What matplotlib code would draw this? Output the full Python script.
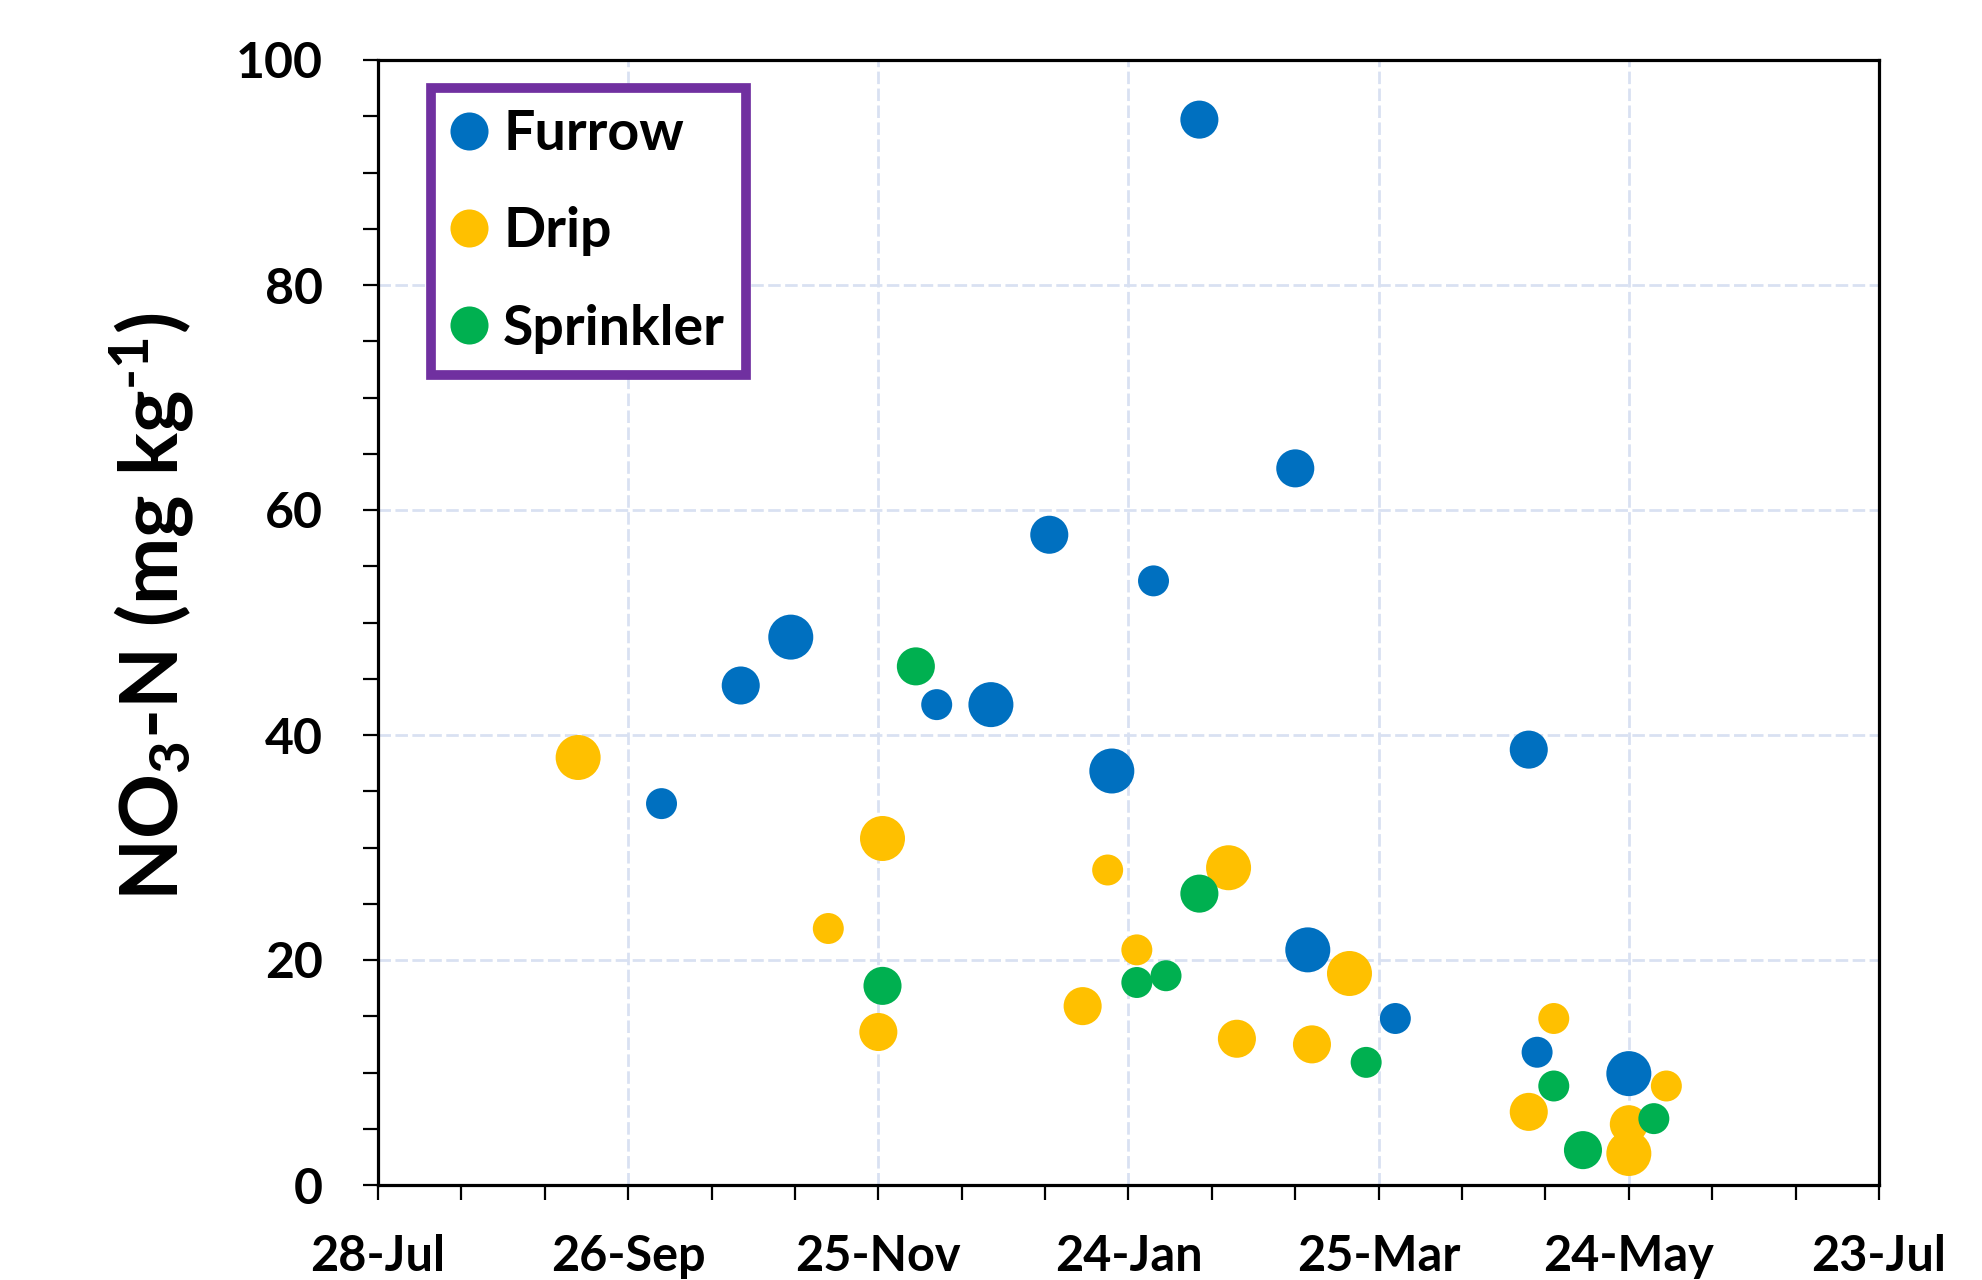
import matplotlib
matplotlib.use('Agg')
import matplotlib.pyplot as plt
import matplotlib.dates as mdates
from matplotlib.lines import Line2D
from matplotlib.ticker import FixedLocator, MultipleLocator
import numpy as np

plt.rcParams['font.family'] = ['Lato', 'DejaVu Sans']
plt.rcParams['font.weight'] = 'bold'
plt.rcParams['mathtext.fontset'] = 'custom'
plt.rcParams['mathtext.rm'] = 'Lato:bold'
plt.rcParams['mathtext.it'] = 'Lato:bold'
plt.rcParams['mathtext.bf'] = 'Lato:bold'

# ---------------- data ----------------
series_names = ['Furrow', 'Drip', 'Sprinkler']

furrow_dates = ['2019-02-10', '2019-03-05', '2019-01-05', '2019-01-30', '2018-11-04',
                '2018-10-23', '2018-12-09', '2018-12-22', '2019-01-20', '2019-04-30',
                '2018-10-04', '2019-03-08', '2019-03-29', '2019-05-02', '2019-05-24']
furrow_no3 = [94.7, 63.7, 57.8, 53.7, 48.7, 44.4, 42.7, 42.7, 36.8, 38.7,
              33.9, 20.9, 14.8, 11.8, 9.9]
furrow_size = [2, 2, 2, 1, 3, 2, 1, 3, 3, 2, 1, 3, 1, 1, 3]

drip_dates = ['2018-09-14', '2018-11-26', '2018-11-13', '2018-11-25', '2019-01-19',
              '2019-01-13', '2019-02-17', '2019-01-26', '2019-02-19', '2019-03-09',
              '2019-03-18', '2019-05-06', '2019-04-30', '2019-05-24', '2019-05-24',
              '2019-06-02']
drip_no3 = [38.0, 30.8, 22.8, 13.6, 28.0, 15.9, 28.2, 20.9, 13.0, 12.5,
            18.8, 14.8, 6.5, 5.4, 2.8, 8.8]
drip_size = [3, 3, 1, 2, 1, 2, 3, 1, 2, 2, 3, 1, 2, 2, 3, 1]

sprinkler_dates = ['2018-12-04', '2018-11-26', '2019-02-10', '2019-01-26', '2019-02-02',
                   '2019-03-22', '2019-05-06', '2019-05-13', '2019-05-30']
sprinkler_no3 = [46.1, 17.7, 25.9, 18.0, 18.6, 10.9, 8.8, 3.1, 5.9]
sprinkler_size = [2, 2, 2, 1, 1, 1, 1, 2, 1]

x_tick_dates = ['2018-07-28', '2018-09-26', '2018-11-25', '2019-01-24',
                '2019-03-25', '2019-05-24', '2019-07-23']
x_tick_labels = ['28-Jul', '26-Sep', '25-Nov', '24-Jan', '25-Mar', '24-May', '23-Jul']
y_ticks = [0, 20, 40, 60, 80, 100]

# ---------------- style ----------------
colors = ['#0070C0', '#FFC000', '#00B050']
size_area = {1: 22.3 ** 2, 2: 27.4 ** 2, 3: 32.4 ** 2}

fig = plt.figure(figsize=(19.82, 12.8), dpi=100)
W, H = 1982, 1280
L, R, T, B = 378, 1879, 60, 1185
ax = fig.add_axes([L / W, 1 - B / H, (R - L) / W, (B - T) / H])

series = [(furrow_dates, furrow_no3, furrow_size),
          (drip_dates, drip_no3, drip_size),
          (sprinkler_dates, sprinkler_no3, sprinkler_size)]

for (d, v, s), c, name in zip(series, colors, series_names):
    xd = mdates.date2num(np.array(d, dtype='datetime64[D]'))
    ax.scatter(xd, v, s=[size_area[k] for k in s], color=c, edgecolors='none',
               zorder=3, label=name)

xt = mdates.date2num(np.array(x_tick_dates, dtype='datetime64[D]'))
ax.set_xlim(xt[0], xt[-1])
ax.set_ylim(0, 100)
ax.xaxis.set_major_locator(FixedLocator(xt))
ax.set_xticklabels(x_tick_labels)
ax.xaxis.set_minor_locator(FixedLocator(np.arange(xt[0], xt[-1] + 1, 20)))
ax.set_yticks(y_ticks)
ax.yaxis.set_minor_locator(MultipleLocator(5))

ax.tick_params(axis='both', which='both', direction='out', length=10.5, width=1.6,
               color='black')
ax.tick_params(axis='x', which='major', labelsize=35, pad=25)
ax.tick_params(axis='y', which='major', labelsize=36, pad=29)
for lab in ax.get_xticklabels() + ax.get_yticklabels():
    lab.set_fontweight('bold')

for sp in ax.spines.values():
    sp.set_linewidth(2.3)
    sp.set_color('black')

ax.set_axisbelow(True)
ax.grid(True, which='major', color='#D9E1F2', linewidth=2.0, linestyle=(0, (4.5, 1.6)))

ax.set_ylabel(r'NO$_3$-N (mg kg$^{\text{-}1}$)', fontsize=58, fontweight='bold')
ax.yaxis.set_label_coords(-0.121, 0.514)

handles = [Line2D([], [], marker='o', linestyle='', markersize=27.4, color=c,
                  markeredgewidth=0, label=n) for c, n in zip(colors, series_names)]
leg = ax.legend(handles=handles, loc='upper left', bbox_to_anchor=(0.0353, 0.975),
                borderaxespad=0, frameon=True, fancybox=False,
                handlelength=0.62, handletextpad=0.30, labelspacing=0.85,
                borderpad=0.38, prop={'size': 40, 'weight': 'bold'})
fr = leg.get_frame()
fr.set_edgecolor('#7030A0')
fr.set_linewidth(7)
fr.set_facecolor('white')
fr.set_alpha(1)

fig.savefig('out.png', dpi=100, facecolor='white')
